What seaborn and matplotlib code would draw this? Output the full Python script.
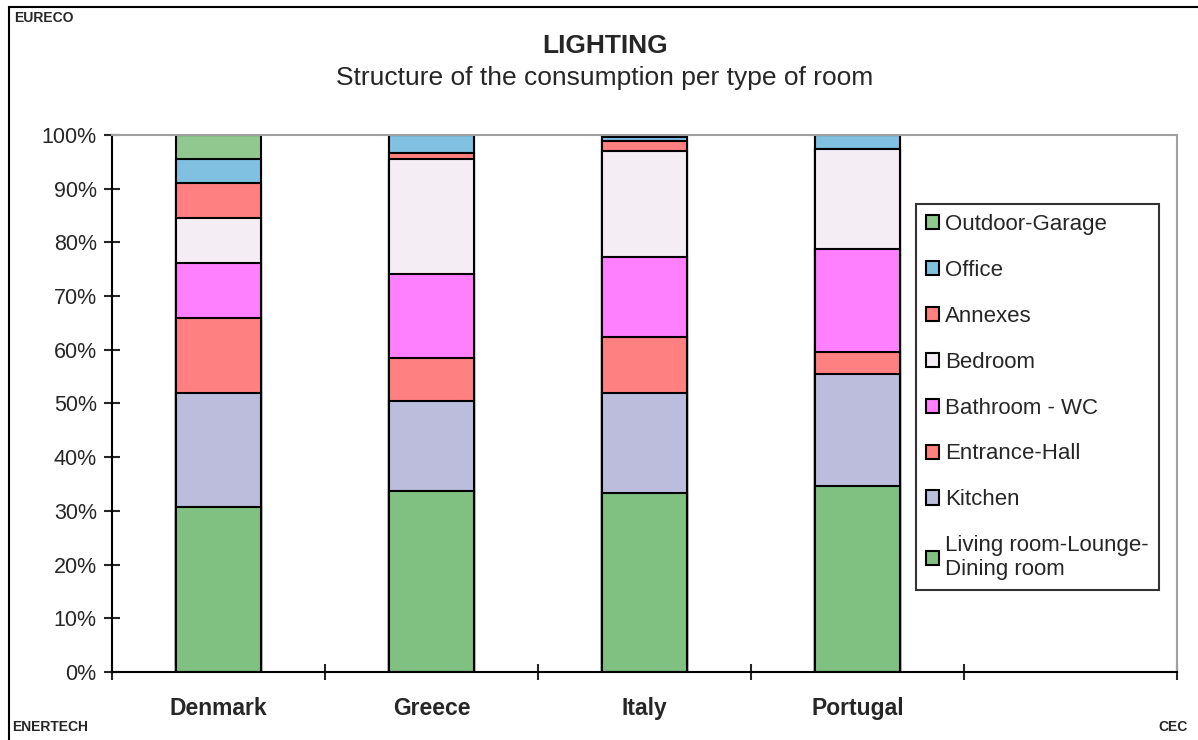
import matplotlib
matplotlib.use("Agg")
import matplotlib.pyplot as plt
import seaborn as sns
import pandas as pd
import numpy as np
from matplotlib.patches import Patch, Rectangle

# datos (porcentaje de consumo por tipo de habitacion)
paises = ["Denmark", "Greece", "Italy", "Portugal"]
living = [30.7, 33.7, 33.3, 34.6]
kitchen = [21.3, 16.8, 18.7, 20.8]
entrance = [13.9, 8.0, 10.4, 4.1]
bathroom = [10.3, 15.7, 14.9, 19.3]
bedroom = [8.4, 21.3, 19.7, 18.6]
annexes = [6.5, 1.1, 1.8, 0.0]
office = [4.4, 3.4, 0.8, 2.6]
outdoor = [4.5, 0.0, 0.4, 0.0]

series = ["Living room-Lounge-\nDining room", "Kitchen", "Entrance-Hall",
          "Bathroom - WC", "Bedroom", "Annexes", "Office", "Outdoor-Garage"]
valores = [living, kitchen, entrance, bathroom, bedroom, annexes, office, outdoor]
colores = ["#80c080", "#bcbcdc", "#ff8080", "#ff80ff", "#f4eef4",
           "#ff8080", "#80c0e0", "#90c890"]

sns.set_style("white")
plt.rcParams["font.family"] = ["Liberation Sans", "DejaVu Sans"]

fig = plt.figure(figsize=(11.98, 7.4), dpi=100)
ax = fig.add_axes([0.0935, 0.0919, 0.8890, 0.7257])

# barras apiladas: se dibujan los acumulados de mayor a menor
acumulado = np.cumsum(np.array(valores), axis=0)
orden = paises + [" "]
for i in range(len(series) - 1, -1, -1):
    df = pd.DataFrame({"Pais": paises, "Valor": acumulado[i]})
    sns.barplot(data=df, x="Pais", y="Valor", order=orden, color=colores[i],
                width=0.4, edgecolor="black", linewidth=1.5, saturation=1,
                ax=ax, zorder=2)

ax.set_xlim(-0.5, 4.5)
ax.set_ylim(0, 100)
ax.set_xlabel("")
ax.set_ylabel("")

ax.set_yticks(np.arange(0, 101, 10))
ax.set_yticklabels([f"{v}%" for v in range(0, 101, 10)], fontsize=15.5)
ax.tick_params(axis="y", direction="inout", length=12, width=1.5, pad=5, left=True)

ax.set_xticks(range(4))
ax.set_xticklabels(paises, fontsize=16.5, fontweight="bold")
ax.tick_params(axis="x", which="major", length=0, pad=18)
ax.set_xticks(np.arange(-0.5, 5.0, 1), minor=True)
ax.tick_params(axis="x", which="minor", direction="inout", length=12, width=1.5, bottom=True)

for lado in ["left", "bottom"]:
    ax.spines[lado].set_color("black")
    ax.spines[lado].set_linewidth(1.5)
for lado in ["top", "right"]:
    ax.spines[lado].set_color("#a0a0a0")
    ax.spines[lado].set_linewidth(1.5)

# leyenda en orden inverso
handles = [Patch(facecolor=colores[i], edgecolor="black", linewidth=1.5, label=series[i])
           for i in range(len(series) - 1, -1, -1)]
leg = fig.legend(handles=handles, loc="upper left", bbox_to_anchor=(916 / 1198, 1 - 204 / 740),
                 frameon=True, fancybox=False, edgecolor="black", fontsize=16,
                 handlelength=0.6, handleheight=0.6, handletextpad=0.25,
                 labelspacing=1.12, borderpad=0.45, borderaxespad=0)
leg.get_frame().set_linewidth(1.5)

fig.text(0.505, 0.938, "LIGHTING", ha="center", va="center", fontsize=19, fontweight="bold")
fig.text(0.505, 0.895, "Structure of the consumption per type of room", ha="center",
         va="center", fontsize=19)
fig.text(14 / 1198, 1 - 18 / 740, "EURECO", fontsize=10, fontweight="bold", va="center")
fig.text(12 / 1198, 1 - 727 / 740, "ENERTECH", fontsize=10, fontweight="bold", va="center")
fig.text(1158 / 1198, 1 - 727 / 740, "CEC", fontsize=10, fontweight="bold", va="center")

# marco exterior
fig.patches.append(Rectangle((9 / 1198, -0.1), 1.2, 1.1 - 7 / 740, transform=fig.transFigure,
                             fill=False, edgecolor="black", linewidth=1.5, figure=fig))

fig.savefig("out.png", dpi=100)
